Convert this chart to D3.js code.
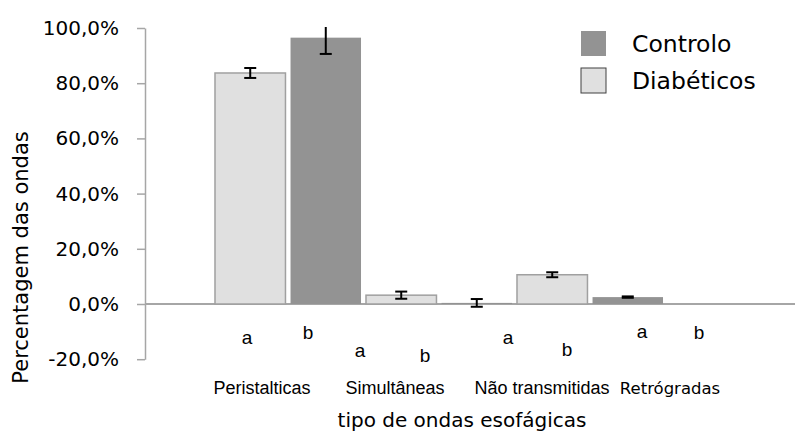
<!DOCTYPE html>
<html>
<head>
<meta charset="utf-8">
<script src="https://cdn.jsdelivr.net/npm/d3@7"></script>
<style>
  body { margin: 0; background: #fff; }
  svg { display: block; }
</style>
</head>
<body>
<div id="chart"></div>
<script>
// chart values
var categories = ["Peristalticas", "Simultâneas", "Não transmitidas", "Retrógradas"];
var seriesNames = ["Diabéticos", "Controlo"];
var diabeticos = [83.7, 3.2, 10.6, 0];
var diabeticosErr = [1.8, 1.3, 0.9, 0];
var controlo = [96.5, 0.4, 2.5, 0];
var controloErr = [5.9, 1.4, 0.25, 0];
var yTicks = [-20, 0, 20, 40, 60, 80, 100];
var groupLetters = ["a", "b"];

// layout of the hand placed text boxes
var catLabelX = [262, 395, 542, 670];
var letterPos = [[247, 344], [308, 339], [360, 357], [425, 362],
                 [508, 344], [567, 356], [642, 338], [699, 339]];

var svgWidth = 795;
var svgHeight = 434;
var axisX = 145;

var svg = d3.select("#chart")
    .append("svg")
    .attr("width", svgWidth)
    .attr("height", svgHeight);

var yScale = d3.scaleLinear()
    .domain([-20, 100])
    .range([359.2, 28]);

var x0 = d3.scaleBand()
    .domain(categories)
    .range([212.5, 816.5]);

var x1 = d3.scaleBand()
    .domain(seriesNames)
    .range([0, x0.bandwidth()])
    .paddingInner(0.067)
    .paddingOuter(0.033);

var colors = { "Diabéticos": "#e0e0e0", "Controlo": "#939393" };

// build rows
var rows = [];
categories.forEach(function(c, i) {
  rows.push({ cat: c, series: "Diabéticos", value: diabeticos[i], err: diabeticosErr[i] });
  rows.push({ cat: c, series: "Controlo", value: controlo[i], err: controloErr[i] });
});

// y axis
var yAxis = d3.axisLeft(yScale)
    .tickValues(yTicks)
    .tickSize(8)
    .tickSizeOuter(0)
    .tickPadding(18)
    .tickFormat(function(d) { return d3.format(".1f")(d).replace(".", ",").replace("−", "-") + "%"; });

var yG = svg.append("g")
    .attr("transform", "translate(" + axisX + ",0)")
    .call(yAxis);
yG.selectAll("path, line").attr("stroke", "#a6a6a6").attr("stroke-width", 1.5);
yG.selectAll("text")
    .attr("fill", "#000")
    .style("font-family", "DejaVu Sans")
    .style("font-size", "20px");

// zero line
svg.append("line")
    .attr("x1", axisX)
    .attr("x2", svgWidth)
    .attr("y1", yScale(0))
    .attr("y2", yScale(0))
    .attr("stroke", "#a6a6a6")
    .attr("stroke-width", 2);

// bars
svg.selectAll("rect.bar")
    .data(rows)
    .enter()
    .append("rect")
    .attr("class", "bar")
    .attr("x", d => x0(d.cat) + x1(d.series))
    .attr("width", x1.bandwidth())
    .attr("y", d => yScale(Math.max(0, d.value)))
    .attr("height", d => Math.abs(yScale(d.value) - yScale(0)))
    .attr("fill", d => colors[d.series])
    .attr("stroke", d => d.series == "Diabéticos" ? "#a0a0a0" : "none")
    .attr("stroke-width", 1.5);

// error bars, clipped at the top of the plot
svg.append("clipPath")
    .attr("id", "plotClip")
    .append("rect")
    .attr("x", axisX)
    .attr("y", yScale(100) - 1)
    .attr("width", svgWidth - axisX)
    .attr("height", svgHeight);

var errG = svg.append("g").attr("clip-path", "url(#plotClip)");
var errRows = rows.filter(d => d.err > 0);
var capW = 6;

errG.selectAll("line.err")
    .data(errRows)
    .enter()
    .append("line")
    .attr("x1", d => x0(d.cat) + x1(d.series) + x1.bandwidth() / 2)
    .attr("x2", d => x0(d.cat) + x1(d.series) + x1.bandwidth() / 2)
    .attr("y1", d => yScale(d.value + d.err))
    .attr("y2", d => yScale(d.value - d.err))
    .attr("stroke", "#000")
    .attr("stroke-width", 2);

[1, -1].forEach(function(sign) {
  errG.selectAll("line.cap" + (sign > 0 ? "Top" : "Bot"))
      .data(errRows)
      .enter()
      .append("line")
      .attr("x1", d => x0(d.cat) + x1(d.series) + x1.bandwidth() / 2 - capW)
      .attr("x2", d => x0(d.cat) + x1(d.series) + x1.bandwidth() / 2 + capW)
      .attr("y1", d => yScale(d.value + sign * d.err))
      .attr("y2", d => yScale(d.value + sign * d.err))
      .attr("stroke", "#000")
      .attr("stroke-width", 2);
});

// category labels
svg.selectAll("text.cat")
    .data(categories)
    .enter()
    .append("text")
    .attr("class", "cat")
    .attr("x", (d, i) => catLabelX[i])
    .attr("y", 394)
    .attr("text-anchor", "middle")
    .style("font-family", (d, i) => i == 3 ? "DejaVu Sans" : "Liberation Sans")
    .style("font-size", (d, i) => i == 3 ? "16.5px" : "18px")
    .text(d => d);

// a / b letters under each bar
svg.selectAll("text.letter")
    .data(rows)
    .enter()
    .append("text")
    .attr("class", "letter")
    .attr("x", (d, i) => letterPos[i][0])
    .attr("y", (d, i) => letterPos[i][1])
    .attr("text-anchor", "middle")
    .style("font-family", "Liberation Sans")
    .style("font-size", "19px")
    .text((d, i) => groupLetters[i % 2]);

// axis titles
svg.append("text")
    .attr("x", 462)
    .attr("y", 427)
    .attr("text-anchor", "middle")
    .style("font-family", "DejaVu Sans")
    .style("font-size", "20px")
    .text("tipo de ondas esofágicas");

svg.append("text")
    .attr("transform", "translate(28,257.5) rotate(-90)")
    .attr("text-anchor", "middle")
    .style("font-family", "DejaVu Sans")
    .style("font-size", "21px")
    .text("Percentagem das ondas");

// legend
var legendNames = ["Controlo", "Diabéticos"];
var legend = svg.selectAll("g.legend")
    .data(legendNames)
    .enter()
    .append("g")
    .attr("class", "legend")
    .attr("transform", (d, i) => "translate(581," + (31 + i * 37) + ")");

legend.append("rect")
    .attr("width", 25)
    .attr("height", 25)
    .attr("fill", d => colors[d])
    .attr("stroke", d => d == "Diabéticos" ? "#404040" : "none")
    .attr("stroke-width", 1);

legend.append("text")
    .attr("x", 51)
    .attr("y", 21)
    .style("font-family", "DejaVu Sans")
    .style("font-size", "23.5px")
    .text(d => d);
</script>
</body>
</html>
